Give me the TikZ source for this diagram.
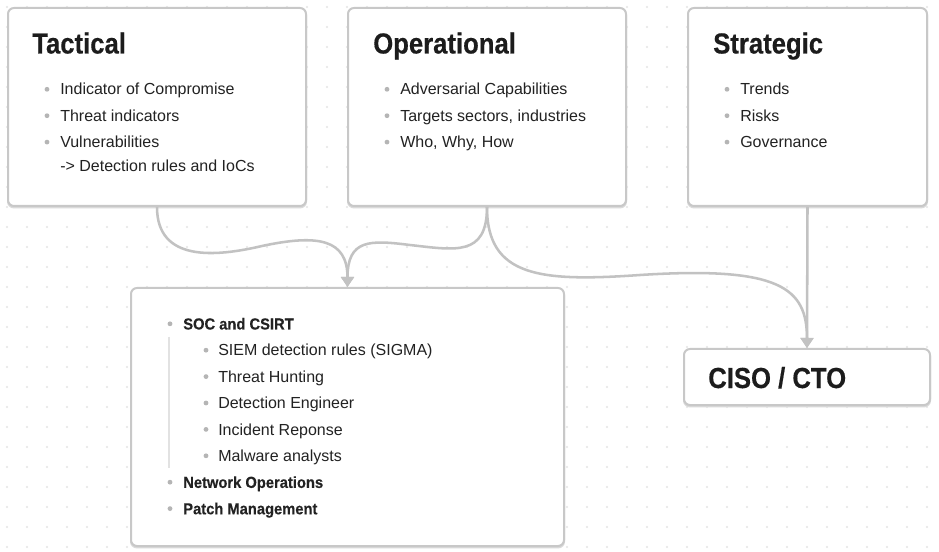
\documentclass[tikz,border=0pt]{standalone}
\usepackage{fontspec}
\setmainfont{Liberation Sans}
\newfontfamily\titlefont[FakeStretch=0.885,FakeBold=0.4]{Liberation Sans Bold}
\newfontfamily\boldfont[FakeStretch=0.92,FakeBold=0.3]{Liberation Sans Bold}
\usetikzlibrary{arrows.meta}
\definecolor{dotc}{HTML}{E4E4E4}
\definecolor{borderc}{HTML}{C8C8C8}
\definecolor{shadowc}{HTML}{DADADA}
\definecolor{titlec}{HTML}{1C1C1C}
\definecolor{textc}{HTML}{222222}
\definecolor{bulc}{HTML}{B5B5B5}
\definecolor{connc}{HTML}{C2C2C2}
\definecolor{guidec}{HTML}{E2E2E2}
\tikzset{
  box/.style={draw=borderc, line width=1.5pt, fill=white, rounded corners=4.5pt,
    inner sep=0pt, anchor=north west,
    preaction={draw=shadowc, line width=1.5pt, transform canvas={yshift=-1.1pt}}},
  ttl/.style={anchor=base west, inner sep=0pt, text=titlec, font=\titlefont\fontsize{21.75pt}{24pt}\selectfont},
  itm/.style={anchor=base west, inner sep=0pt, text=textc, font=\fontsize{12pt}{14pt}\selectfont},
  bitm/.style={anchor=base west, inner sep=0pt, text=textc, font=\boldfont\fontsize{12pt}{14pt}\selectfont},
  conn/.style={draw=connc, line width=1.9pt, -{Triangle[width=9.5pt,length=7.5pt]}},
}
\newcommand{\bul}[2]{\fill[bulc] (#1,#2-5.7) circle (1.8pt);}
\begin{document}
\begin{tikzpicture}[x=0.75pt,y=-0.75pt]
\useasboundingbox (0,0) rectangle (939,552);
\fill[white] (0,0) rectangle (939,552);
\foreach \i in {0,...,46} \foreach \j in {0,...,27} \fill[dotc] (7+20*\i,7+20*\j) circle (0.8pt);

% boxes
\node[box, minimum width=298*0.75pt, minimum height=198*0.75pt] (tac) at (7,7) {};
\node[box, minimum width=278*0.75pt, minimum height=198*0.75pt] (op) at (347,7) {};
\node[box, minimum width=239*0.75pt, minimum height=198*0.75pt] (str) at (687,7) {};
\node[box, minimum width=433*0.75pt, minimum height=258*0.75pt] (bot) at (130,287) {};
\node[box, minimum width=246*0.75pt, minimum height=56*0.75pt] (ciso) at (683,348) {};

% Tactical
\node[ttl] (tact) at (32,53.5) {Tactical};
\bul{47}{95}\node[itm] (t1) at (60,95) {Indicator of Compromise};
\bul{47}{121.4}\node[itm] (t2) at (60,121.4) {Threat indicators};
\bul{47}{147.8}\node[itm] (t3) at (60,147.8) {Vulnerabilities};
\node[itm] (t4) at (60,172) {-> Detection rules and IoCs};

% Operational
\node[ttl] (opt) at (373,53.5) {Operational};
\bul{387}{95}\node[itm] (o1) at (400,95) {Adversarial Capabilities};
\bul{387}{121.4}\node[itm] (o2) at (400,121.4) {Targets sectors, industries};
\bul{387}{147.8}\node[itm] (o3) at (400,147.8) {Who, Why, How};

% Strategic
\node[ttl] (strt) at (713,53.5) {Strategic};
\bul{727}{95}\node[itm] (s1) at (740,95) {Trends};
\bul{727}{121.4}\node[itm] (s2) at (740,121.4) {Risks};
\bul{727}{147.8}\node[itm] (s3) at (740,147.8) {Governance};

% Bottom box
\bul{170}{329.5}\node[bitm] (b1) at (183,329.5) {SOC and CSIRT};
\draw[guidec, line width=1.1pt] (169,337) -- (169,468);
\bul{206}{355.9}\node[itm] (b11) at (218,355.9) {SIEM detection rules (SIGMA)};
\bul{206}{382.3}\node[itm] (b12) at (218,382.3) {Threat Hunting};
\bul{206}{408.7}\node[itm] (b13) at (218,408.7) {Detection Engineer};
\bul{206}{435.1}\node[itm] (b14) at (218,435.1) {Incident Reponse};
\bul{206}{461.5}\node[itm] (b15) at (218,461.5) {Malware analysts};
\bul{170}{487.9}\node[bitm] (b2) at (183,487.9) {Network Operations};
\bul{170}{514.3}\node[bitm] (b3) at (183,514.3) {Patch Management};

% CISO
\node[ttl] (cisot) at (708,388) {CISO / CTO};

% connectors
\draw[conn] (tac.south) .. controls +(0,55) and (215,257) .. (262,246)
  .. controls (318,234) and +(0,-48) .. (bot.north);
\draw[conn] (op.south) .. controls +(0,50) and (455,250) .. (410,245)
  .. controls (370,240) and +(0,-48) .. (bot.north);
\draw[conn] (op.south) .. controls +(0,70) and (540,282) .. (640,275)
  .. controls (780,266) and +(0,-60) .. (ciso.north);
\draw[conn] (str.south) -- (ciso.north);
\end{tikzpicture}
\end{document}
